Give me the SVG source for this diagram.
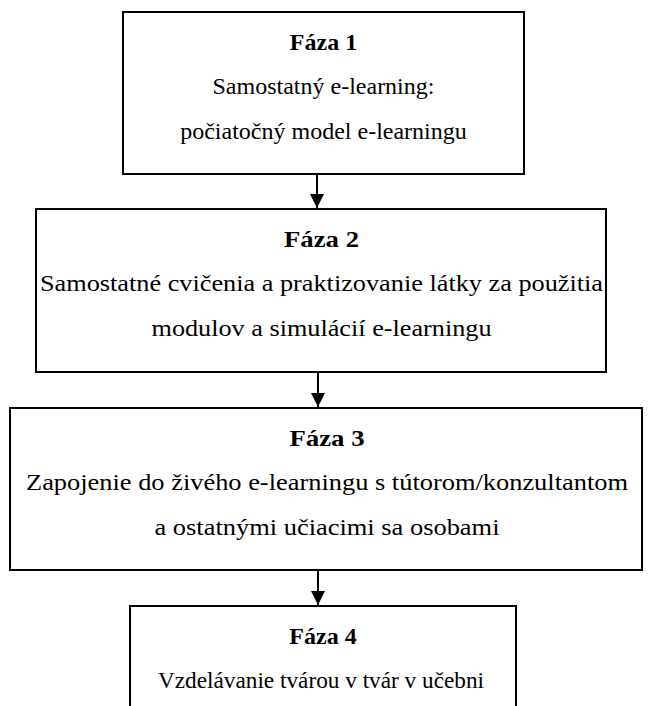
<svg xmlns="http://www.w3.org/2000/svg" width="651" height="706" viewBox="0 0 651 706">
  <style>
    .box { fill: #ffffff; stroke: #000000; stroke-width: 2; }
    .title { font-family: 'Liberation Serif', 'Times New Roman', Times, serif; font-size: 24px; font-weight: bold; text-anchor: middle; fill: #000000; }
    .body { font-family: 'Liberation Serif', 'Times New Roman', Times, serif; font-size: 24px; text-anchor: middle; fill: #000000; }
    .conn { stroke: #000000; stroke-width: 2; fill: none; marker-end: url(#arrow); }
  </style>
  <defs>
    <marker id="arrow" markerWidth="14" markerHeight="14" refX="14" refY="7" orient="auto" markerUnits="userSpaceOnUse">
      <path d="M0,0 L14,7 L0,14 Z" fill="#000000"/>
    </marker>
  </defs>
  <rect width="651" height="706" fill="#ffffff"/>

  <g id="faza1">
    <rect class="box" x="123" y="12" width="401" height="162"/>
    <text class="title" x="323.5" y="50">Fáza 1</text>
    <text class="body" x="323.5" y="94">Samostatný e-learning:</text>
    <text class="body" x="323.5" y="139">počiatočný model e-learningu</text>
  </g>

  <!-- wider set text in the two broad boxes -->
  <g id="faza2">
    <rect class="box" x="36" y="209" width="570" height="163"/>
    <text class="title" x="321.5" y="247" textLength="75" lengthAdjust="spacingAndGlyphs">Fáza 2</text>
    <text class="body" x="321.5" y="291" textLength="563" lengthAdjust="spacingAndGlyphs">Samostatné cvičenia a praktizovanie látky za použitia</text>
    <text class="body" x="321.5" y="336" textLength="340" lengthAdjust="spacingAndGlyphs">modulov a simulácií e-learningu</text>
  </g>

  <g id="faza3">
    <rect class="box" x="10" y="408" width="632" height="162"/>
    <text class="title" x="327" y="446" textLength="75" lengthAdjust="spacingAndGlyphs">Fáza 3</text>
    <text class="body" x="327" y="490" textLength="602" lengthAdjust="spacingAndGlyphs">Zapojenie do živého e-learningu s tútorom/konzultantom</text>
    <text class="body" x="327" y="535" textLength="345" lengthAdjust="spacingAndGlyphs">a ostatnými učiacimi sa osobami</text>
  </g>

  <g id="faza4">
    <rect class="box" x="130" y="606" width="386" height="110"/>
    <text class="title" x="323" y="644">Fáza 4</text>
    <text class="body" x="321" y="688" textLength="326" lengthAdjust="spacingAndGlyphs">Vzdelávanie tvárou v tvár v učebni</text>
  </g>

  <g id="connectors">
    <line class="conn" x1="317" y1="174" x2="317" y2="208"/>
    <line class="conn" x1="318" y1="372" x2="318" y2="407"/>
    <line class="conn" x1="318" y1="570" x2="318" y2="605"/>
  </g>
</svg>
